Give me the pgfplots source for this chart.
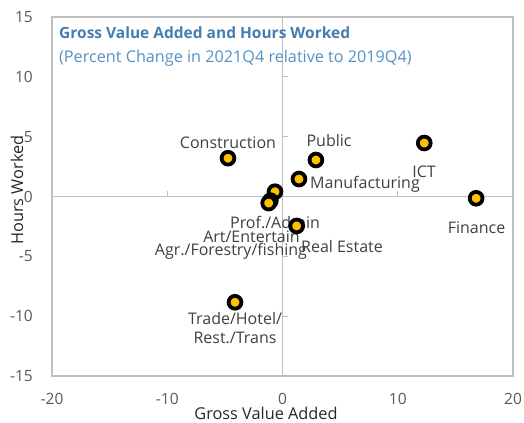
\documentclass[border=0pt]{standalone}
\usepackage{pgfplots}
\pgfplotsset{compat=1.18}
\usepackage{fontspec}
\setmainfont{Open Sans}
\definecolor{axgray}{RGB}{191,191,191}
\definecolor{txt}{RGB}{89,89,89}
\definecolor{lbl}{RGB}{64,64,64}
\definecolor{ttl}{RGB}{68,125,176}
\definecolor{sub}{RGB}{84,145,196}
\definecolor{gold}{RGB}{255,192,0}
\begin{document}
\begin{tikzpicture}
\begin{axis}[
  scale only axis, width=461pt, height=359pt,
  xmin=-20, xmax=20, ymin=-15, ymax=15,
  xtick={-20,-10,0,10,20}, ytick={-15,-10,-5,0,5,10,15},
  major tick length=0pt,
  axis line style={axgray, line width=1.5pt},
  /pgf/number format/assume math mode=true,
  tick label style={font=\fontsize{15.5}{18}\selectfont, text=txt},
  yticklabel style={inner sep=0pt, anchor=east, xshift=-19pt},
  xticklabel style={inner sep=0pt, anchor=north, yshift=-17pt},
  xlabel={Gross Value Added}, ylabel={Hours Worked},
  every axis x label/.style={at={([xshift=-16.5pt,yshift=-37pt]rel axis cs:0.5,0)}, anchor=center, font=\fontsize{16.3}{19}\selectfont, text=black!85},
  every axis y label/.style={at={([xshift=-35pt,yshift=6.5pt]rel axis cs:0,0.5)}, anchor=center, rotate=90, font=\fontsize{16.3}{19}\selectfont, text=black!85},
  clip=false,
]
\draw[axgray, line width=1.5pt] (axis cs:0,-15) -- (axis cs:0,15);
\draw[axgray, line width=1.5pt] (axis cs:-20,0) -- (axis cs:20,0);
\pgfplotsinvokeforeach{-15,-10,-5,5,10,15}{\draw[axgray, line width=1.2pt] (axis cs:0,#1) -- ([xshift=5pt]axis cs:0,#1);}
\pgfplotsinvokeforeach{-20,-10,10,20}{\draw[axgray, line width=1.2pt] (axis cs:#1,0) -- ([yshift=5pt]axis cs:#1,0);}

\addplot[only marks, mark=*, mark size=6.4pt, mark options={fill=gold, draw=black, line width=3.8pt}]
coordinates {
 (-4.73,3.2)
 (2.9,3.05)
 (12.3,4.47)
 (1.43,1.46)
 (-0.65,0.4)
 (-1.05,-0.35)
 (-1.2,-0.55)
 (1.23,-2.46)
 (16.8,-0.15)
 (-4.12,-8.84)
};

\begin{scope}[every node/.style={font=\fontsize{16}{19}\selectfont, text=lbl, inner sep=0pt}]
\node at (axis cs:-4.73,4.47) {Construction};
\node at (axis cs:4.04,4.64) {Public};
\node at (axis cs:12.28,2.05) {ICT};
\node at (axis cs:7.16,1.04) {Manufacturing};
\node at (axis cs:-0.65,-2.21) {Prof./Admin};
\node at (axis cs:-2.69,-3.38) {Art/Entertain};
\node at (axis cs:-4.47,-4.55) {Agr./Forestry/fishing};
\node at (axis cs:5.16,-4.22) {Real Estate};
\node at (axis cs:16.84,-2.63) {Finance};
\node[align=center] at (axis cs:-4.12,-10.99) {Trade/Hotel/\\Rest./Trans};
\end{scope}

\node[anchor=base west, inner sep=0pt, font=\bfseries\fontsize{15.5}{18}\selectfont, text=ttl]
  at ([xshift=7pt,yshift=-22pt]rel axis cs:0,1) {Gross Value Added and Hours Worked};
\node[anchor=base west, inner sep=0pt, font=\fontsize{16.2}{19}\selectfont, text=sub]
  at ([xshift=7pt,yshift=-46pt]rel axis cs:0,1) {(Percent Change in 2021Q4 relative to 2019Q4)};

\path ([xshift=-52pt,yshift=-46pt]rel axis cs:0,0) rectangle ([xshift=11pt,yshift=17pt]rel axis cs:1,1);
\end{axis}
\end{tikzpicture}
\end{document}
